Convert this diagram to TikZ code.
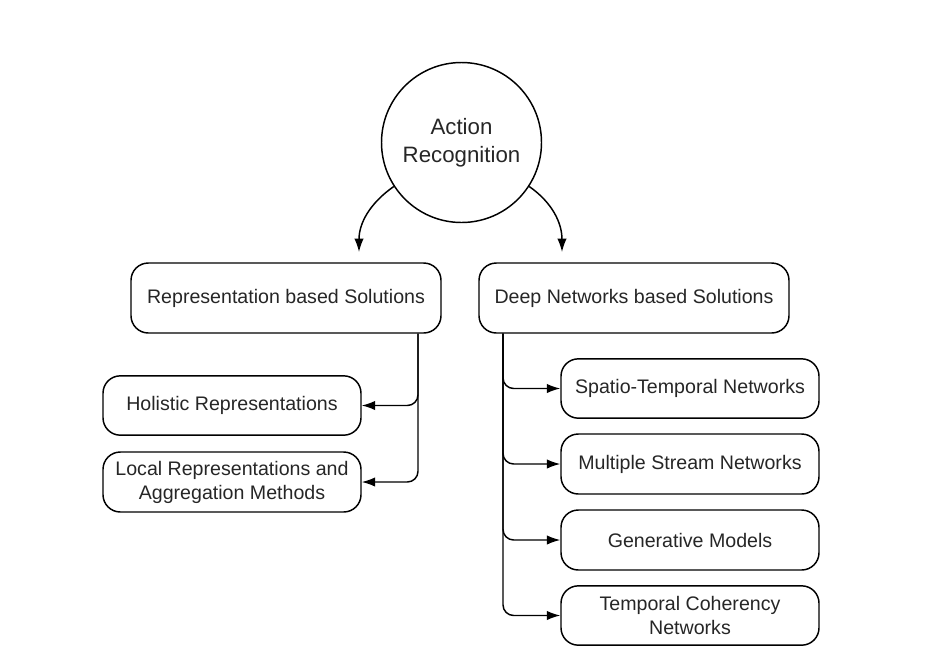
\documentclass[tikz,border=0pt]{standalone}
\usepackage{fontspec}
\setmainfont{Liberation Sans}
\usetikzlibrary{arrows.meta,calc}
\definecolor{txt}{HTML}{262626}
\begin{document}
\begin{tikzpicture}[x=0.75pt,y=-0.75pt,
  box/.style={draw,line width=1.1pt,rounded corners=13pt,align=center,text=txt,
    font=\fontsize{14.7pt}{18pt}\selectfont,inner sep=0pt},
  conn/.style={line width=1.1pt,rounded corners=8pt,-{Latex[length=10pt,width=7pt]}},
  curv/.style={line width=1.1pt,-{Latex[length=10pt,width=7pt]}}]
\useasboundingbox (0,0) rectangle (932,665);
\node[draw,circle,line width=1.1pt,minimum size=120pt,inner sep=0pt,align=center,text=txt,
  font=\fontsize{16.7pt}{21pt}\selectfont] (ar) at (461.5,142.5) {Action\\Recognition};
\node[box,minimum width=232.5pt,minimum height=52.5pt] (rep) at (286,298) {Representation based Solutions};
\node[box,minimum width=232.5pt,minimum height=52.5pt] (deep) at (634,298) {Deep Networks based Solutions};
\node[box,minimum width=193.5pt,minimum height=44.5pt] (hol) at (232,405.5) {Holistic Representations};
\node[box,minimum width=193.5pt,minimum height=45pt] (loc) at (232,482) {Local Representations and\\Aggregation Methods};
\node[box,minimum width=193.5pt,minimum height=44.5pt] (st) at (690,388.5) {Spatio-Temporal Networks};
\node[box,minimum width=193.5pt,minimum height=45pt] (ms) at (690,464) {Multiple Stream Networks};
\node[box,minimum width=193.5pt,minimum height=45pt] (gm) at (690,540) {Generative Models};
\node[box,minimum width=193.5pt,minimum height=44.5pt] (tc) at (690,615.5) {Temporal Coherency\\Networks};
\coordinate (la) at (359,252);
\coordinate (ra) at (562,252);
\coordinate (lx) at (418,0);
\coordinate (rx) at (503,0);
\draw[curv] (ar.213) to[out=215,in=90] (la);
\draw[curv] (ar.-33) to[out=-35,in=90] (ra);
\draw[conn] (rep.south -| lx) |- (hol.east);
\draw[conn] (rep.south -| lx) |- (loc.east);
\draw[conn] (deep.south -| rx) |- (st.west);
\draw[conn] (deep.south -| rx) |- (ms.west);
\draw[conn] (deep.south -| rx) |- (gm.west);
\draw[conn] (deep.south -| rx) |- (tc.west);
\end{tikzpicture}
\end{document}
